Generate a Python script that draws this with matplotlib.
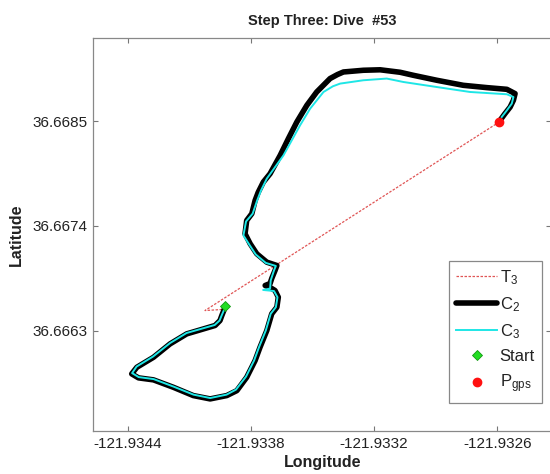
import matplotlib
matplotlib.use("Agg")
import matplotlib.pyplot as plt
from matplotlib.ticker import FixedLocator, FormatStrFormatter

plt.rcParams['font.family'] = ['Liberation Sans', 'DejaVu Sans']
plt.rcParams['mathtext.fontset'] = 'custom'
plt.rcParams['mathtext.rm'] = 'Liberation Sans'
plt.rcParams['mathtext.it'] = 'Liberation Sans:italic'
plt.rcParams['mathtext.bf'] = 'Liberation Sans:bold'

title = "Step Three: Dive  #53"
xlabel = "Longitude"
ylabel = "Latitude"
x_ticks = [-121.9344, -121.9338, -121.9332, -121.9326]
y_ticks = [36.6663, 36.6674, 36.6685]

# C2 trajectory (thick black)
c2_lon = [-121.933925, -121.933941, -121.933950, -121.933974, -121.934112, -121.934193,
          -121.934274, -121.934355, -121.934380, -121.934347, -121.934274, -121.934177,
          -121.934080, -121.933998, -121.933917, -121.933868, -121.933820, -121.933779,
          -121.933755, -121.933722, -121.933698, -121.933673, -121.933666, -121.933682,
          -121.933706, -121.933730, -121.933706, -121.933698, -121.933682, -121.933673,
          -121.933722, -121.933771, -121.933803, -121.933828, -121.933820, -121.933795,
          -121.933779, -121.933764, -121.933739, -121.933706, -121.933657, -121.933617,
          -121.933576, -121.933527, -121.933479, -121.933414, -121.933378, -121.933349,
          -121.933252, -121.933170, -121.933073, -121.933008, -121.932894, -121.932765,
          -121.932651, -121.932553, -121.932513, -121.932521, -121.932537, -121.932562,
          -121.932586]
c2_lat = [36.666545, 36.666458, 36.666405, 36.666353, 36.666265, 36.666160,
          36.666019, 36.665914, 36.665845, 36.665803, 36.665782, 36.665704,
          36.665617, 36.665582, 36.665617, 36.665669, 36.665809, 36.665985,
          36.666125, 36.666300, 36.666476, 36.666545, 36.666650, 36.666720,
          36.666752, 36.666773, 36.666794, 36.666847, 36.666931, 36.666983,
          36.667018, 36.667106, 36.667211, 36.667316, 36.667456, 36.667527,
          36.667666, 36.667751, 36.667859, 36.667947, 36.668139, 36.668315,
          36.668489, 36.668665, 36.668805, 36.668946, 36.668988, 36.669015,
          36.669033, 36.669038, 36.669012, 36.668980, 36.668928, 36.668875,
          36.668851, 36.668833, 36.668788, 36.668718, 36.668647, 36.668578,
          36.668507]

# C3 trajectory (thin cyan)
c3_lon = [-121.933925, -121.933942, -121.933952, -121.933976, -121.934113, -121.934193,
          -121.934276, -121.934356, -121.934378, -121.934346, -121.934273, -121.934176,
          -121.934079, -121.933998, -121.933918, -121.933872, -121.933823, -121.933784,
          -121.933760, -121.933727, -121.933703, -121.933678, -121.933670, -121.933687,
          -121.933740, -121.933706, -121.933703, -121.933687, -121.933678, -121.933727,
          -121.933776, -121.933808, -121.933836, -121.933823, -121.933791, -121.933769,
          -121.933750, -121.933722, -121.933641, -121.933560, -121.933511, -121.933446,
          -121.933400, -121.933365, -121.933252, -121.933138, -121.933057, -121.932894,
          -121.932732, -121.932553, -121.932521, -121.932529, -121.932553, -121.932578]
c3_lat = [36.666542, 36.666458, 36.666405, 36.666358, 36.666274, 36.666169,
          36.666027, 36.665922, 36.665853, 36.665811, 36.665790, 36.665711,
          36.665627, 36.665591, 36.665627, 36.665680, 36.665817, 36.665985,
          36.666125, 36.666300, 36.666476, 36.666545, 36.666650, 36.666715,
          36.666726, 36.666741, 36.666826, 36.666931, 36.666978, 36.667010,
          36.667099, 36.667204, 36.667299, 36.667446, 36.667527, 36.667666,
          36.667772, 36.667895, 36.668139, 36.668455, 36.668630, 36.668805,
          36.668865, 36.668893, 36.668928, 36.668946, 36.668910, 36.668857,
          36.668805, 36.668781, 36.668752, 36.668683, 36.668612, 36.668542]

# T3 straight-line track
t3_lon = [-121.933940, -121.934023, -121.932590]
t3_lat = [36.666521, 36.666510, 36.668490]

start_lon, start_lat = [-121.933925], [36.666558]
gps_lon, gps_lat = [-121.932590], [36.668490]

fig = plt.figure(figsize=(5.5, 4.74), dpi=100)
ax = fig.add_axes([93.3 / 550, 1 - 431 / 474, (551 - 93.3) / 550, (431 - 37.7) / 474])

ax.plot(t3_lon, t3_lat, color='#e05555', lw=0.9, ls=(0, (2, 1.2)), label=r'T$_3$', zorder=2)
ax.plot(c2_lon, c2_lat, color='black', lw=4.0, solid_joinstyle='round',
        solid_capstyle='round', label=r'C$_2$', zorder=3)
ax.plot(c3_lon, c3_lat, color='#1ee6e6', lw=1.4, label=r'C$_3$', zorder=4)
ax.plot(start_lon, start_lat, ls='none', marker='D', ms=5.5, mfc='#22dd22',
        mec='#119911', mew=0.6, label='Start', zorder=5)
ax.plot(gps_lon, gps_lat, ls='none', marker='o', ms=6, mfc='#ff1010',
        mec='#ff1010', label=r'P$_{\mathrm{gps}}$', zorder=5)

ax.set_xlim(-121.934567, -121.932338)
ax.set_ylim(36.665245, 36.669375)
ax.xaxis.set_major_locator(FixedLocator(x_ticks))
ax.yaxis.set_major_locator(FixedLocator(y_ticks))
ax.xaxis.set_major_formatter(FormatStrFormatter('%.4f'))
ax.yaxis.set_major_formatter(FormatStrFormatter('%.4f'))

ax.tick_params(direction='in', length=3.5, width=0.8, color='#777777',
               labelsize=11, labelcolor='#222222', top=True, right=True, pad=4)
for s in ax.spines.values():
    s.set_color('#888888')
    s.set_linewidth(0.9)

ax.set_title(title, fontsize=10.5, fontweight='bold', color='#222222', pad=9)
ax.set_xlabel(xlabel, fontsize=11.5, fontweight='bold', color='#222222', labelpad=3)
ax.set_ylabel(ylabel, fontsize=11.5, fontweight='bold', color='#222222', labelpad=6)

leg = ax.legend(loc='lower right', bbox_to_anchor=(0.981, 0.072), borderaxespad=0,
                fontsize=12, handlelength=2.45, handletextpad=0.15, labelspacing=0.5,
                fancybox=False, framealpha=1, edgecolor='#888888', borderpad=0.45)
leg.get_frame().set_linewidth(0.9)
for t in leg.get_texts():
    t.set_color('#222222')

fig.savefig('out.png', dpi=100)
